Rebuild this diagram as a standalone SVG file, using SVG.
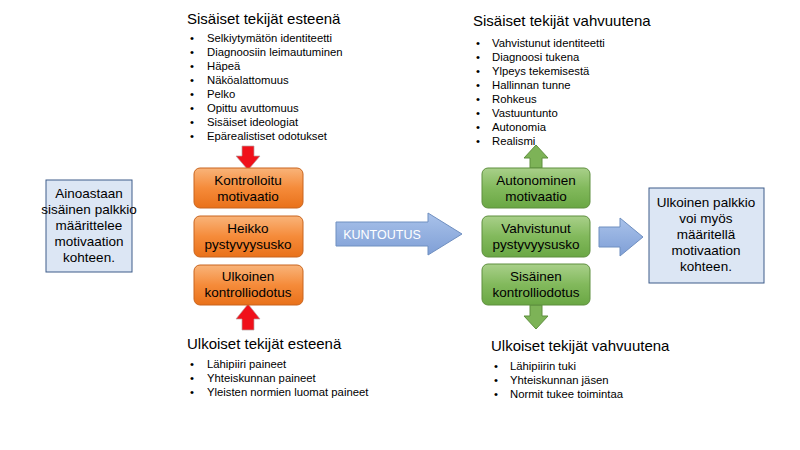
<svg xmlns="http://www.w3.org/2000/svg" width="800" height="450" viewBox="0 0 800 450">
<defs>
<linearGradient id="og" x1="0" y1="0" x2="0" y2="1"><stop offset="0" stop-color="#f9b47a"/><stop offset="0.5" stop-color="#f58b3a"/><stop offset="1" stop-color="#e9711a"/></linearGradient>
<linearGradient id="gg" x1="0" y1="0" x2="0" y2="1"><stop offset="0" stop-color="#a9d08a"/><stop offset="0.5" stop-color="#82b95c"/><stop offset="1" stop-color="#6aa744"/></linearGradient>
<linearGradient id="bg" x1="0" y1="0" x2="0" y2="1"><stop offset="0" stop-color="#a9c2ea"/><stop offset="1" stop-color="#7f9fd6"/></linearGradient>
</defs>
<style>
text{font-family:"Liberation Sans",Arial,sans-serif;fill:#000}
.t{font-size:15px}
.b{font-size:11.3px}
.n{font-size:13.5px;text-anchor:middle}
.o{fill:url(#og);stroke:#c9651e;stroke-width:1}
.g{fill:url(#gg);stroke:#5f8f3e;stroke-width:1}
.bx{fill:#dce6f4;stroke:#3e5c8a;stroke-width:1}
.ra{fill:#f0101a;stroke:#b8a0a0;stroke-width:0.7}
.ga{fill:#7db357;stroke:#5f8f3e;stroke-width:1}
.ba{fill:url(#bg);stroke:#6f8fc0;stroke-width:1}
</style>
<rect width="800" height="450" fill="#fff"/>
<g id="lists">
<text class="t" x="187" y="24">Sisäiset tekijät esteenä</text>
<g class="b">
<text x="190" y="42">•</text><text x="207" y="42">Selkiytymätön  identiteetti</text>
<text x="190" y="56">•</text><text x="207" y="56">Diagnoosiin leimautuminen</text>
<text x="190" y="70">•</text><text x="207" y="70">Häpeä</text>
<text x="190" y="84">•</text><text x="207" y="84">Näköalattomuus</text>
<text x="190" y="98">•</text><text x="207" y="98">Pelko</text>
<text x="190" y="112">•</text><text x="207" y="112">Opittu avuttomuus</text>
<text x="190" y="126">•</text><text x="207" y="126">Sisäiset ideologiat</text>
<text x="190" y="140">•</text><text x="207" y="140">Epärealistiset odotukset</text>
</g>
<text class="t" x="473" y="26">Sisäiset tekijät vahvuutena</text>
<g class="b">
<text x="476" y="47">•</text><text x="492" y="47">Vahvistunut identiteetti</text>
<text x="476" y="61">•</text><text x="492" y="61">Diagnoosi tukena</text>
<text x="476" y="75">•</text><text x="492" y="75">Ylpeys tekemisestä</text>
<text x="476" y="89">•</text><text x="492" y="89">Hallinnan tunne</text>
<text x="476" y="103">•</text><text x="492" y="103">Rohkeus</text>
<text x="476" y="117">•</text><text x="492" y="117">Vastuuntunto</text>
<text x="476" y="131">•</text><text x="492" y="131">Autonomia</text>
<text x="476" y="145">•</text><text x="492" y="145">Realismi</text>
</g>
<text class="t" x="187" y="349">Ulkoiset tekijät esteenä</text>
<g class="b">
<text x="190" y="368">•</text><text x="207" y="368">Lähipiiri paineet</text>
<text x="190" y="382">•</text><text x="207" y="382">Yhteiskunnan paineet</text>
<text x="190" y="396">•</text><text x="207" y="396">Yleisten normien luomat paineet</text>
</g>
<text class="t" x="491" y="351">Ulkoiset tekijät vahvuutena</text>
<g class="b">
<text x="494" y="370">•</text><text x="510" y="370">Lähipiirin tuki</text>
<text x="494" y="384">•</text><text x="510" y="384">Yhteiskunnan jäsen</text>
<text x="494" y="398">•</text><text x="510" y="398">Normit tukee toimintaa</text>
</g>
</g>
<g id="connectors">
<polygon class="ra" points="242,146 254,146 254,156 260,156 248,170 236,156 242,156"/>
<polygon class="ra" points="242,330 254,330 254,319 260,319 248,304 236,319 242,319"/>
<polygon class="ba" points="336,222 428,222 428,213 462,234 428,255 428,246 336,246"/>
<text x="382" y="239" style="font-size:12.5px;fill:#fff;text-anchor:middle">KUNTOUTUS</text>
<polygon class="ga" points="530,168 542,168 542,158 548,158 536,145 524,158 530,158"/>
<polygon class="ga" points="530,305 542,305 542,316 548,316 536,329 524,316 530,316"/>
<polygon class="ba" points="599,227 620,227 620,218 643,237 620,256 620,247 599,247"/>
</g>
<g id="left-box"><rect class="bx" x="46" y="180" width="86" height="92"/>
<text class="n" x="89" y="198">Ainoastaan</text><text class="n" x="89" y="214">sisäinen palkkio</text><text class="n" x="89" y="230">määrittelee</text><text class="n" x="89" y="246">motivaation</text><text class="n" x="89" y="262">kohteen.</text></g>
<g id="o1"><rect class="o" x="194" y="168" width="109" height="40" rx="6"/><text class="n" x="248" y="185">Kontrolloitu</text><text class="n" x="248" y="201">motivaatio</text></g>
<g id="o2"><rect class="o" x="194" y="216" width="109" height="41" rx="6"/><text class="n" x="248" y="233">Heikko</text><text class="n" x="248" y="249">pystyvyysusko</text></g>
<g id="o3"><rect class="o" x="194" y="265" width="109" height="40" rx="6"/><text class="n" x="248" y="281">Ulkoinen</text><text class="n" x="248" y="297">kontrolliodotus</text></g>
<g id="g1"><rect class="g" x="482" y="168" width="108" height="40" rx="6"/><text class="n" x="536" y="185">Autonominen</text><text class="n" x="536" y="201">motivaatio</text></g>
<g id="g2"><rect class="g" x="482" y="216" width="108" height="41" rx="6"/><text class="n" x="536" y="233">Vahvistunut</text><text class="n" x="536" y="249">pystyvyysusko</text></g>
<g id="g3"><rect class="g" x="482" y="264" width="108" height="41" rx="6"/><text class="n" x="536" y="281">Sisäinen</text><text class="n" x="536" y="297">kontrolliodotus</text></g>
<g id="right-box"><rect class="bx" x="649" y="188" width="115" height="95"/>
<text class="n" x="706" y="207">Ulkoinen palkkio</text><text class="n" x="706" y="223">voi myös</text><text class="n" x="706" y="239">määritellä</text><text class="n" x="706" y="255">motivaation</text><text class="n" x="706" y="271">kohteen.</text></g>
</svg>
